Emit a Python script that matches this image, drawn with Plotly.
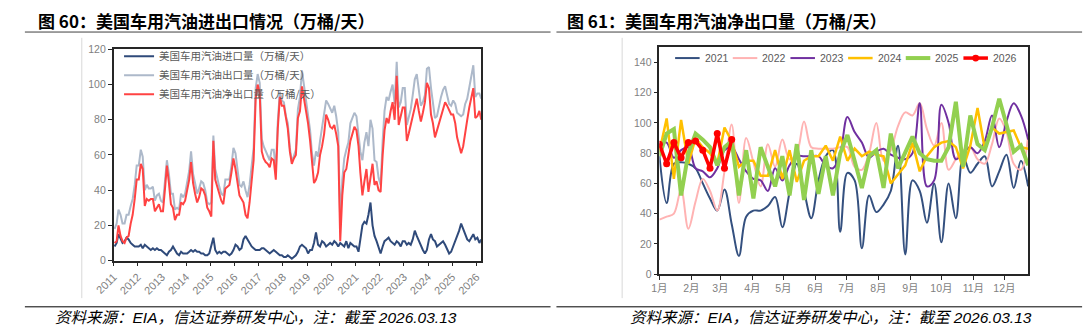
import pandas as pd
import plotly.graph_objects as go

# ---------------- Left chart: monthly values, 2011-01 .. 2026-03 (万桶/天) ----------------
imports = [
    8, 10, 15, 12, 10, 11, 13, 12, 10, 9, 8, 8,          # 2011
    8, 9, 7, 9, 8, 7, 6, 7, 6, 7, 6, 6,                  # 2012
    5, 4, 3, 5, 6, 8, 6, 4, 3, 5, 4, 4,                  # 2013
    4, 5, 6, 5, 6, 5, 5, 4, 4, 3, 3, 4,                  # 2014
    8, 13, 6, 4, 5, 4, 5, 5, 4, 3, 4, 6,                 # 2015
    9, 8, 6, 7, 12, 14, 12, 10, 8, 7, 6, 6,              # 2016
    6, 7, 7, 6, 5, 4, 5, 6, 5, 4, 3, 3,                  # 2017
    2, 2, 3, 2, 1, 2, 3, 5, 8, 9, 8, 7,                  # 2018
    4, 6, 6, 10, 16, 9, 8, 11, 10, 8, 9, 10,             # 2019
    9, 11, 10, 8, 10, 9, 8, 11, 7, 10, 9, 8,             # 2020
    8, 5, 12, 20, 22, 21, 26, 33, 20, 14, 11, 7,         # 2021
    4, 8, 11, 12, 13, 11, 10, 9, 11, 10, 8, 11,          # 2022
    11, 9, 10, 9, 12, 17, 14, 11, 9, 6, 4, 6,            # 2023
    12, 15, 12, 11, 8, 9, 10, 11, 9, 6, 4, 5,            # 2024
    8, 11, 14, 17, 21, 18, 15, 12, 11, 13, 15, 12,       # 2025
    13, 10, 12,                                          # 2026
]
exports = [
    18, 21, 29, 26, 21, 21, 26, 26, 31, 35, 43, 54,      # 2011
    54, 63, 59, 40, 43, 41, 41, 42, 34, 37, 38, 34,      # 2012
    33, 45, 57, 49, 38, 38, 29, 30, 29, 38, 36, 38,      # 2013
    44, 51, 62, 49, 44, 38, 41, 45, 44, 40, 33, 32,      # 2014
    33, 71, 52, 46, 42, 38, 37, 46, 46, 46, 54, 64,      # 2015
    61, 52, 43, 42, 45, 40, 36, 43, 53, 64, 98, 106,     # 2016
    101, 69, 65, 62, 60, 57, 63, 63, 51, 79, 96, 91,     # 2017
    90, 82, 78, 64, 56, 60, 63, 86, 93, 108, 100, 90,    # 2018
    82, 74, 61, 54, 62, 59, 68, 76, 82, 91, 89, 86,      # 2019
    84, 88, 82, 73, 21, 46, 58, 63, 67, 78, 81, 84,      # 2020
    82, 70, 62, 57, 67, 73, 65, 80, 75, 57, 56, 47,      # 2021
    43, 68, 85, 93, 91, 96, 100, 89, 113, 87, 90, 98,    # 2022
    98, 77, 82, 86, 94, 103, 106, 96, 88, 90, 94, 109,   # 2023
    110, 98, 90, 81, 82, 88, 93, 97, 99, 94, 89, 88,     # 2024
    91, 89, 84, 83, 82, 83, 89, 92, 98, 106, 111, 93,    # 2025
    95, 95, 92,                                          # 2026
]
net_exports = [
    10, 11, 20, 14, 11, 10, 13, 14, 21, 26, 35, 46,      # 2011
    46, 55, 52, 31, 35, 34, 35, 35, 28, 30, 32, 28,      # 2012
    28, 41, 54, 44, 32, 30, 23, 26, 26, 33, 32, 34,      # 2013
    40, 46, 56, 44, 38, 33, 36, 41, 40, 37, 30, 28,      # 2014
    25, 68, 46, 42, 37, 34, 32, 41, 42, 43, 50, 58,      # 2015
    52, 44, 37, 35, 33, 26, 24, 33, 45, 57, 92, 100,     # 2016
    95, 62, 58, 56, 55, 53, 58, 57, 46, 75, 93, 88,      # 2017
    88, 80, 75, 62, 55, 58, 60, 81, 85, 99, 92, 83,      # 2018
    78, 68, 55, 44, 46, 50, 60, 65, 72, 83, 80, 76,      # 2019
    75, 77, 72, 65, 11, 37, 50, 52, 60, 68, 72, 76,      # 2020
    74, 65, 50, 37, 45, 52, 39, 47, 55, 43, 45, 40,      # 2021
    39, 60, 74, 81, 78, 85, 90, 80, 105, 77, 82, 87,     # 2022
    87, 68, 72, 77, 82, 86, 92, 85, 79, 84, 90, 101,     # 2023
    98, 83, 78, 70, 74, 79, 83, 86, 90, 88, 85, 83,      # 2024
    83, 78, 70, 66, 61, 65, 74, 80, 87, 93, 98, 81,      # 2025
    82, 85, 80,                                          # 2026
]
left_series_names = ["美国车用汽油进口量（万桶/天）", "美国车用汽油出口量（万桶/天）", "美国车用汽油净出口量（万桶/天）"]
year_tick_labels = [str(y) for y in range(2011, 2027)]

# ---------------- Right chart: weekly net exports by year (万桶/天) ----------------
net_2021 = [78, 47, 73, 74, 73, 70, 60, 50, 42, 56, 33, 12, 38, 42, 42, 45, 51, 31, 54, 73,
            55, 37, 62, 78, 82, 28, 67, 62, 17, 52, 41, 46, 55, 85, 13, 62, 55, 34, 60, 21,
            60, 37, 78, 67, 73, 78, 58, 68, 79, 57, 75, 58]
net_2022 = [36, 38, 40, 56, 30, 48, 63, 55, 42, 68, 99, 47, 90, 74, 58, 86, 71, 89, 76, 80,
            101, 84, 83, 83, 83, 84, 84, 71, 69, 80, 100, 75, 82, 98, 107, 105, 113, 96, 85, 100,
            69, 76, 82, 84, 76, 73, 86, 103, 94, 73, 69, 92]
net_2023 = [86, 87, 77, 82, 84, 70, 68, 64, 70, 82, 84, 76, 68, 63, 62, 55, 70, 62, 72, 78,
            78, 78, 78, 72, 70, 80, 104, 94, 87, 77, 81, 83, 79, 77, 76, 80, 113, 58, 62, 112,
            100, 76, 80, 84, 80, 88, 105, 84, 101, 113, 105, 89]
net_2024 = [81, 103, 63, 102, 73, 90, 84, 80, 73, 97, 88, 71, 75, 75, 65, 65, 82, 63, 82, 61,
            75, 78, 78, 85, 75, 91, 75, 83, 78, 81, 79, 78, 60, 66, 72, 87, 68, 78, 84, 87,
            88, 84, 70, 85, 110, 83, 97, 93, 94, 95, 84, 83]
net_2025 = [78, 93, 96, 52, 80, 93, 89, 84, 72, 84, 88, 52, 82, 50, 84, 70, 58, 78, 52, 86,
            49, 82, 53, 78, 52, 80, 92, 75, 57, 78, 82, 57, 93, 70, 80, 91, 80, 76, 75, 75,
            84, 114, 71, 105, 86, 82, 97, 116, 99, 81, 85, 72]
net_2026 = [86, 73, 87, 77, 87, 88, 82, 70, 93, 70, 89]
month_labels = ["1月", "2月", "3月", "4月", "5月", "6月", "7月", "8月", "9月", "10月", "11月", "12月"]

# ---------------- build figure ----------------
W, H = 1088, 335
def px_x(x):
    return x / W
def px_y(y):
    return 1 - y / H

left_dates = pd.date_range("2011-01-15", periods=len(net_exports), freq=pd.DateOffset(months=1))
def week_dates(n):
    return pd.date_range("2001-01-01", periods=n, freq="7D")

fig = go.Figure()
left_colors = ["#2F4A7A", "#ADB9CA", "#FF4343"]
for vals, name, col in zip([imports, exports, net_exports], left_series_names, left_colors):
    fig.add_trace(go.Scatter(x=left_dates, y=vals, name=name, mode="lines",
                             line=dict(color=col, width=2), xaxis="x", yaxis="y", legend="legend"))

right_years = ["2021", "2022", "2023", "2024", "2025", "2026"]
right_data = [net_2021, net_2022, net_2023, net_2024, net_2025, net_2026]
right_colors = ["#34507F", "#FFB3B3", "#7030A0", "#FFC000", "#92D050", "#FF0000"]
right_widths = [2, 2, 2, 2.5, 4, 3.5]
right_shapes = ["spline", "spline", "spline", "linear", "linear", "linear"]
for name, vals, col, w, shp in zip(right_years, right_data, right_colors, right_widths, right_shapes):
    is_last = name == "2026"
    fig.add_trace(go.Scatter(x=week_dates(len(vals)), y=vals, name=name,
                             mode="lines+markers" if is_last else "lines",
                             marker=dict(size=7, color=col) if is_last else None,
                             line=dict(color=col, width=w, shape=shp),
                             xaxis="x2", yaxis="y2", showlegend=False))

axis_col = "#262626"
tick_font = dict(family="Liberation Sans, Noto Sans CJK SC", size=10.5, color="#7F7F7F")
left_tickvals = [f"{y}-01-01" for y in year_tick_labels]
month_tickvals = [f"2001-{m:02d}-01" for m in range(1, 13)]

fig.update_layout(
    width=W, height=H, autosize=False,
    margin=dict(l=0, r=0, t=0, b=0),
    paper_bgcolor="white", plot_bgcolor="white",
    font=dict(family="Liberation Sans, Noto Sans CJK SC"),
    xaxis=dict(domain=[px_x(95.5), px_x(470)], anchor="y", type="date",
               range=["2011-01-01", "2026-03-10"], tickvals=left_tickvals, ticktext=year_tick_labels,
               tickangle=-45, ticks="outside", ticklen=4, tickcolor=axis_col,
               showline=True, linecolor=axis_col, linewidth=1.5, mirror=True,
               showgrid=False, zeroline=False, tickfont=dict(tick_font, size=11)),
    yaxis=dict(domain=[px_y(264), px_y(45)], anchor="x", range=[0, 120], dtick=20,
               ticks="outside", ticklen=4, tickcolor=axis_col,
               showline=True, linecolor=axis_col, linewidth=1.5, mirror=True,
               showgrid=False, zeroline=False, tickfont=tick_font),
    xaxis2=dict(domain=[px_x(652), px_x(1028)], anchor="y2", type="date",
                range=["2001-01-01", "2001-12-24"], tickvals=month_tickvals, ticktext=month_labels,
                tickangle=0, ticks="outside", ticklen=4, tickcolor=axis_col,
                showline=True, linecolor=axis_col, linewidth=1.5, mirror=True,
                showgrid=False, zeroline=False, tickfont=tick_font),
    yaxis2=dict(domain=[px_y(278), px_y(43)], anchor="x2", range=[0, 150], dtick=20,
                ticks="outside", ticklen=4, tickcolor=axis_col,
                showline=True, linecolor=axis_col, linewidth=1.5, mirror=True,
                showgrid=False, zeroline=False, tickfont=tick_font),
    legend=dict(x=px_x(101), y=px_y(37), xanchor="left", yanchor="top",
                bgcolor="rgba(0,0,0,0)", itemwidth=30, tracegroupgap=0,
                font=dict(family="Noto Sans CJK SC", size=10.5, color="#595959")),
    showlegend=True,
)

# legend for the seasonal chart (drawn as a row of samples, like the original)
leg_font = dict(family="Liberation Sans", size=10.5, color="#595959")
leg_x0, leg_step, leg_len, leg_y = 668, 58.8, 25, 54
for i, (name, col, w) in enumerate(zip(right_years, right_colors, right_widths)):
    xs = leg_x0 + i * leg_step
    fig.add_shape(type="line", xref="paper", yref="paper", x0=px_x(xs), x1=px_x(xs + leg_len),
                  y0=px_y(leg_y), y1=px_y(leg_y), line=dict(color=col, width=w))
    if name == "2026":
        cx = xs + leg_len / 2
        fig.add_shape(type="circle", xref="paper", yref="paper", x0=px_x(cx - 3.5), x1=px_x(cx + 3.5),
                      y0=px_y(leg_y + 3.5), y1=px_y(leg_y - 3.5), fillcolor=col, line=dict(color=col, width=0))
    fig.add_annotation(x=px_x(xs + leg_len + 3), y=px_y(leg_y), xref="paper", yref="paper",
                       xanchor="left", yanchor="middle", text=name, showarrow=False, font=leg_font)

title_font = dict(family="Noto Sans CJK SC", size=17, color="#000000")
src_font = dict(family="Liberation Sans, Noto Sans CJK SC", size=15.5, color="#000000")
fig.add_annotation(x=px_x(16), y=px_y(15), xref="paper", yref="paper", xanchor="left", yanchor="middle",
                   align="left", text="<b>图 60：美国车用汽油进出口情况（万桶/天）</b>", showarrow=False, font=title_font)
fig.add_annotation(x=px_x(556), y=px_y(15), xref="paper", yref="paper", xanchor="left", yanchor="middle",
                   align="left", text="<b>图 61：美国车用汽油净出口量（万桶/天）</b>", showarrow=False, font=title_font)
src = "<i>资料来源：EIA，信达证券研发中心，注：截至 2026.03.13</i>"
fig.add_annotation(x=px_x(34), y=px_y(323), xref="paper", yref="paper", xanchor="left", yanchor="middle",
                   align="left", text=src, showarrow=False, font=src_font)
fig.add_annotation(x=px_x(620), y=px_y(323), xref="paper", yref="paper", xanchor="left", yanchor="middle",
                   align="left", text=src, showarrow=False, font=src_font)

for x0, x1 in [(5, 541), (547, 1083)]:
    fig.add_shape(type="line", xref="paper", yref="paper", x0=px_x(x0), x1=px_x(x1),
                  y0=px_y(27), y1=px_y(27), line=dict(color="#404040", width=1))
    fig.add_shape(type="line", xref="paper", yref="paper", x0=px_x(x0), x1=px_x(x1),
                  y0=px_y(312), y1=px_y(312), line=dict(color="#000000", width=1))
for xv in [63, 614]:
    fig.add_shape(type="line", xref="paper", yref="paper", x0=px_x(xv), x1=px_x(xv),
                  y0=px_y(33), y1=px_y(303), line=dict(color="#D9D9D9", width=1))

fig.write_html("out.html")
